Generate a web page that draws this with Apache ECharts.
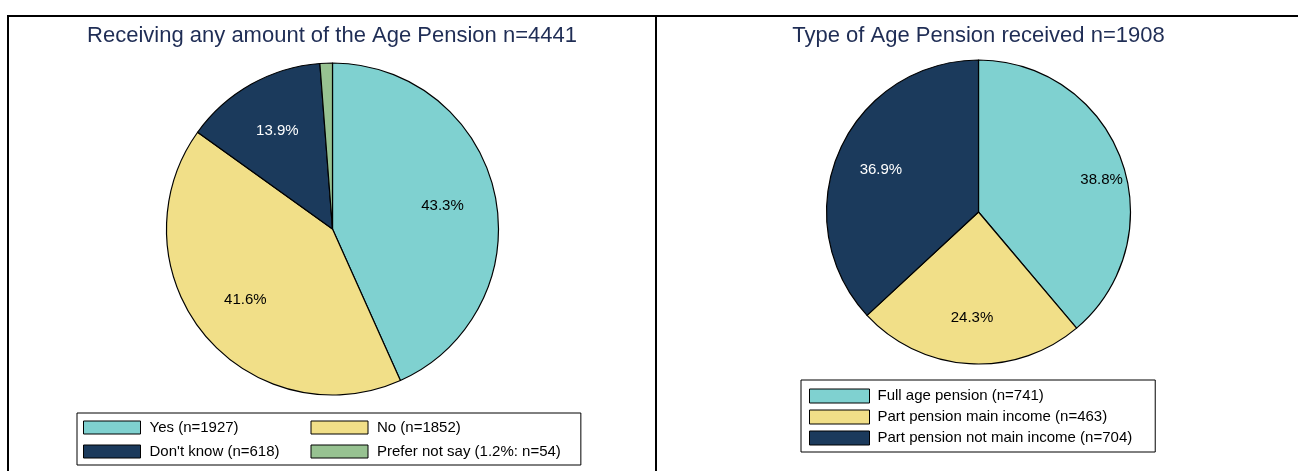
<!DOCTYPE html>
<html>
<head>
<meta charset="utf-8">
<script src="https://cdn.jsdelivr.net/npm/echarts@6/dist/echarts.min.js"></script>
<style>
html,body{margin:0;padding:0;background:#fff;}
#main{width:1299px;height:471px;}
</style>
</head>
<body>
<div id="main"></div>
<script>
// ---- data ----
const leftTitle = 'Receiving any amount of the Age Pension n=4441';
const leftCategories = ['Yes (n=1927)', 'No (n=1852)', "Don't know (n=618)", 'Prefer not say (1.2%: n=54)'];
const leftValues = [1927, 1852, 618, 54];
const rightTitle = 'Type of Age Pension received n=1908';
const rightCategories = ['Full age pension (n=741)', 'Part pension main income (n=463)', 'Part pension not main income (n=704)'];
const rightValues = [741, 463, 704];

// ---- styles ----
const colTeal = '#7fd1d0', colYellow = '#f1df88', colNavy = '#1b3a5c', colGreen = '#97c291';
const leftColors = [colTeal, colYellow, colNavy, colGreen];
const leftLabelColors = ['#000', '#000', '#fff', '#000'];
const rightColors = [colTeal, colYellow, colNavy];
const rightLabelColors = ['#000', '#000', '#fff'];
const FONT = 'Liberation Sans, Arial, sans-serif';

function pctFormatter(values) {
  const s = values.reduce((a, b) => a + b, 0);
  return p => (p.value / s * 100).toFixed(1) + '%';
}
function mainData(cats, vals, cols) {
  return cats.map((c, i) => ({ name: c, value: vals[i], itemStyle: { color: cols[i] } }));
}
function labelData(cats, vals, labCols, showIdx) {
  return cats.map((c, i) => ({
    name: c, value: vals[i],
    label: { show: showIdx.indexOf(i) >= 0, color: labCols[i] }
  }));
}
function overlay(center, radius, data, values, layout) {
  const s = {
    type: 'pie', center: center, radius: radius, startAngle: 90, clockwise: true,
    silent: true, legendHoverLink: false, z: 5,
    itemStyle: { color: 'rgba(0,0,0,0)', borderWidth: 0 },
    label: { position: 'inside', fontSize: 15, fontFamily: FONT, formatter: pctFormatter(values) },
    labelLine: { show: false },
    emphasis: { disabled: true },
    data: data
  };
  if (layout) s.labelLayout = layout;
  return s;
}

const chart = echarts.init(document.getElementById('main'), null, { renderer: 'canvas' });
const legendCommon = {
  icon: 'rect',
  itemStyle: { borderColor: '#000', borderWidth: 1 },
  borderColor: '#000', borderWidth: 1,
  backgroundColor: '#fff',
  selectedMode: false
};

chart.setOption({
  animation: false,
  backgroundColor: '#fff',
  title: [
    { text: leftTitle, left: 327, top: 20, textAlign: 'center',
      textStyle: { fontSize: 22, fontWeight: 'normal', color: '#1f2d55', fontFamily: FONT } },
    { text: rightTitle, left: 973.5, top: 20, textAlign: 'center',
      textStyle: { fontSize: 22, fontWeight: 'normal', color: '#1f2d55', fontFamily: FONT } }
  ],
  legend: [
    Object.assign({}, legendCommon, {
      data: leftCategories,
      orient: 'horizontal', left: 77, top: 413, width: 500,
      itemWidth: 57, itemHeight: 13, itemGap: 5,
      padding: [5, 20, 4, 6],
      textStyle: { fontSize: 15, fontFamily: FONT, color: '#000', width: 156, lineHeight: 19, padding: [0, 0, 0, 4] }
    }),
    Object.assign({}, legendCommon, {
      data: rightCategories,
      orient: 'vertical', left: 801, top: 380,
      itemWidth: 60, itemHeight: 14, itemGap: 5,
      padding: [8, 23, 6, 8],
      textStyle: { fontSize: 15, fontFamily: FONT, color: '#000', lineHeight: 16, padding: [0, 0, 0, 3] }
    })
  ],
  graphic: [
    { type: 'line', shape: { x1: 7, y1: 16, x2: 1298, y2: 16 }, style: { stroke: '#000', lineWidth: 2 }, z: 100 },
    { type: 'line', shape: { x1: 8, y1: 15, x2: 8, y2: 471 }, style: { stroke: '#000', lineWidth: 2 }, z: 100 },
    { type: 'line', shape: { x1: 656, y1: 15, x2: 656, y2: 471 }, style: { stroke: '#000', lineWidth: 2 }, z: 100 }
  ],
  series: [
    {
      type: 'pie', center: [332.5, 229], radius: [0, 166], startAngle: 90, clockwise: true,
      itemStyle: { borderColor: '#000', borderWidth: 1.2 },
      label: { show: false }, labelLine: { show: false },
      emphasis: { disabled: true },
      data: mainData(leftCategories, leftValues, leftColors)
    },
    overlay([332.5, 229], [53, 166], labelData(leftCategories, leftValues, leftLabelColors, [0, 1, 2]), leftValues),
    {
      type: 'pie', center: [978.5, 212], radius: [0, 152], startAngle: 90, clockwise: true,
      itemStyle: { borderColor: '#000', borderWidth: 1.2 },
      label: { show: false }, labelLine: { show: false },
      emphasis: { disabled: true },
      data: mainData(rightCategories, rightValues, rightColors)
    },
    overlay([978.5, 212], [55, 152], labelData(rightCategories, rightValues, rightLabelColors, [1, 2]), rightValues),
    overlay([978.5, 212], [102, 152], labelData(rightCategories, rightValues, rightLabelColors, [0]), rightValues,
      { dx: 1, dy: 13 })
  ]
});
</script>
</body>
</html>
